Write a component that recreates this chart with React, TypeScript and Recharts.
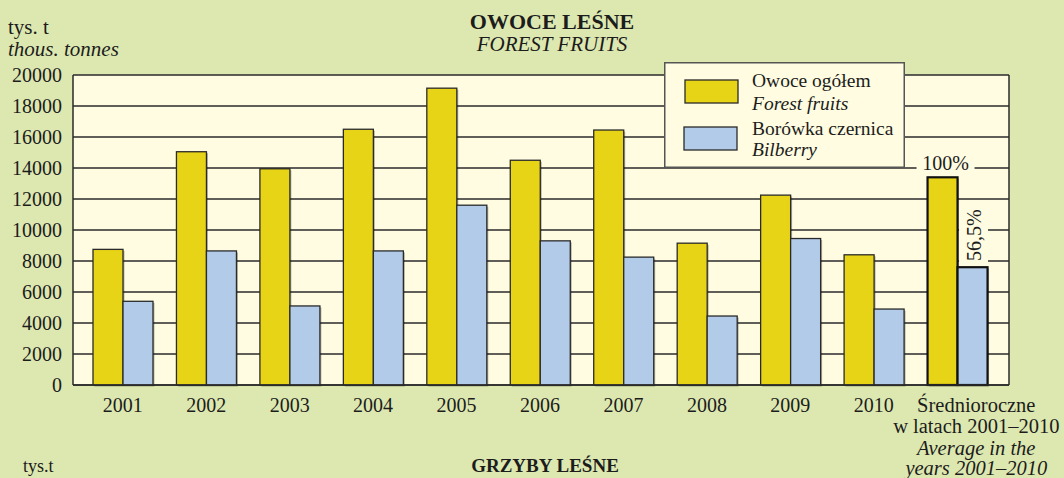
import * as React from "react";
import {
  BarChart,
  Bar,
  XAxis,
  YAxis,
  CartesianGrid,
  LabelList,
  Legend,
} from "recharts";

if (typeof document !== "undefined") document.body.style.margin = "0";

const FONT = '"Liberation Serif", "Times New Roman", serif';
const GREEN = "#dce8b0";
const CREAM = "#fffce1";
const YELLOW = "#e8d416";
const BLUE = "#b2cbe9";
const LINE = "#2a2a2a";
const INK = "#1c1c1c";

// categories + values (thous. tonnes), last one = average 2001-2010
const categories = ["2001", "2002", "2003", "2004", "2005", "2006", "2007", "2008", "2009", "2010", "avg"];
const forestFruits = [8750, 15050, 13950, 16500, 19150, 14500, 16450, 9150, 12250, 8400, 13400];
const bilberry = [5400, 8650, 5100, 8650, 11600, 9300, 8250, 4450, 9450, 4900, 7600];
const yTicks = [0, 2000, 4000, 6000, 8000, 10000, 12000, 14000, 16000, 18000, 20000];

const avgLabelLines = ["Średnioroczne", "w latach 2001–2010", "Average in the", "years 2001–2010"];
const seriesPl = ["Owoce ogółem", "Borówka czernica"];
const seriesEn = ["Forest fruits", "Bilberry"];
const avgShares = ["100%", "56,5%"];

const chartData = categories.map((name, i) => ({
  name,
  fruits: forestFruits[i],
  bilberry: bilberry[i],
}));

const AVG_INDEX = categories.length - 1;

function makeBarShape(fill: string) {
  return (props: any) => {
    const { x, y, width, height, index } = props;
    if (height <= 0) return null;
    const isAvg = index === AVG_INDEX;
    return (
      <g>
        <rect x={x + 1.5} y={y + 1.5} width={width} height={height} fill="rgba(0,0,0,0.28)" />
        <rect
          x={x}
          y={y}
          width={width}
          height={height}
          fill={fill}
          stroke={isAvg ? "#111" : LINE}
          strokeWidth={isAvg ? 2.2 : 1.3}
        />
      </g>
    );
  };
}

function TotalLabel(props: any) {
  const { x, y, width, index } = props;
  if (index !== AVG_INDEX) return null;
  const cx = x + width / 2;
  return (
    <g>
      <rect x={cx - 26} y={y - 15} width={58} height={10} fill={CREAM} />
      <text x={cx + 3} y={y - 7} textAnchor="middle" fontFamily={FONT} fontSize={20} fill={INK}>
        {avgShares[0]}
      </text>
    </g>
  );
}

function ShareLabel(props: any) {
  const { x, y, width, index } = props;
  if (index !== AVG_INDEX) return null;
  const px = x + width / 2 + 8;
  const py = y - 32;
  return (
    <g>
      <rect x={x + 1.5} y={y - 62} width={width - 1} height={58} fill={CREAM} />
      <text
        x={px}
        y={py}
        transform={`rotate(-90, ${px}, ${py})`}
        textAnchor="middle"
        fontFamily={FONT}
        fontSize={20}
        fill={INK}
      >
        {avgShares[1]}
      </text>
    </g>
  );
}

function CategoryTick(props: any) {
  const { x, y, payload } = props;
  if (payload.value === "avg") {
    const offsets = [19, 40, 62, 82];
    return (
      <g>
        {avgLabelLines.map((line, i) => (
          <text
            key={line}
            x={x + 19}
            y={y + offsets[i]}
            textAnchor="middle"
            fontFamily={FONT}
            fontSize={20.5}
            fontStyle={i >= 2 ? "italic" : "normal"}
            fill={INK}
          >
            {line}
          </text>
        ))}
      </g>
    );
  }
  return (
    <text x={x} y={y + 19} textAnchor="middle" fontFamily={FONT} fontSize={20} fill={INK}>
      {payload.value}
    </text>
  );
}

function LegendBox() {
  const swatches = [YELLOW, BLUE];
  return (
    <svg width={241} height={106} style={{ display: "block" }}>
      <rect x={0.75} y={0.75} width={239.5} height={104.5} fill={CREAM} stroke="#555" strokeWidth={1.5} />
      {swatches.map((c, i) => (
        <rect
          key={c}
          x={21 - i}
          y={18 + i * 47}
          width={53}
          height={23}
          fill={c}
          stroke={LINE}
          strokeWidth={1.3}
        />
      ))}
      {seriesPl.map((t, i) => (
        <g key={t} fontFamily={FONT} fontSize={19.5} fill={INK}>
          <text x={88} y={25 + i * 48}>{t}</text>
          <text x={88} y={48 + i * 46} fontStyle="italic">{seriesEn[i]}</text>
        </g>
      ))}
    </svg>
  );
}

export default function App() {
  return (
    <div
      style={{
        position: "relative",
        width: 1064,
        height: 478,
        background: GREEN,
        overflow: "hidden",
        fontFamily: FONT,
      }}
    >
      <BarChart
        width={1064}
        height={478}
        data={chartData}
        margin={{ top: 75, right: 54, bottom: 63, left: 0 }}
        barGap={0}
        barSize={30}
      >
        <CartesianGrid vertical={false} stroke={LINE} strokeWidth={1.4} fill={CREAM} fillOpacity={1} />
        <XAxis
          dataKey="name"
          interval={0}
          padding={{ left: 8, right: 10 }}
          tickLine={false}
          axisLine={{ stroke: LINE, strokeWidth: 1.5 }}
          tick={<CategoryTick />}
        />
        <YAxis
          domain={[0, 20000]}
          ticks={yTicks}
          interval={0}
          width={73}
          tickLine={false}
          tickSize={6}
          tickMargin={5}
          axisLine={{ stroke: LINE, strokeWidth: 1.5 }}
          tick={{ fill: INK, fontSize: 20, fontFamily: FONT }}
        />
        <YAxis
          yAxisId="frame"
          orientation="right"
          domain={[0, 20000]}
          width={1}
          tick={false}
          tickLine={false}
          axisLine={{ stroke: LINE, strokeWidth: 1.5 }}
        />
        <Legend
          layout="horizontal"
          verticalAlign="middle"
          align="center"
          wrapperStyle={{ left: 664, top: 62, width: 241, height: 106 }}
          content={() => <LegendBox />}
        />
        <Bar dataKey="fruits" fill={YELLOW} shape={makeBarShape(YELLOW)} isAnimationActive={false}>
          <LabelList dataKey="fruits" content={<TotalLabel />} />
        </Bar>
        <Bar dataKey="bilberry" fill={BLUE} shape={makeBarShape(BLUE)} isAnimationActive={false}>
          <LabelList dataKey="bilberry" content={<ShareLabel />} />
        </Bar>
      </BarChart>

      <svg
        width={1064}
        height={478}
        style={{ position: "absolute", left: 0, top: 0, pointerEvents: "none" }}
        fontFamily={FONT}
        fill={INK}
      >
        <text x={8} y={34} fontSize={21}>tys. t</text>
        <text x={8} y={56} fontSize={21} fontStyle="italic">thous. tonnes</text>
        <text x={552} y={29} fontSize={22} fontWeight="bold" textAnchor="middle">OWOCE LEŚNE</text>
        <text x={552} y={51} fontSize={21} fontStyle="italic" textAnchor="middle">FOREST FRUITS</text>
        <text x={23} y={472} fontSize={18}>tys.t</text>
        <text x={545} y={472} fontSize={19} fontWeight="bold" textAnchor="middle">GRZYBY LEŚNE</text>
      </svg>
    </div>
  );
}
